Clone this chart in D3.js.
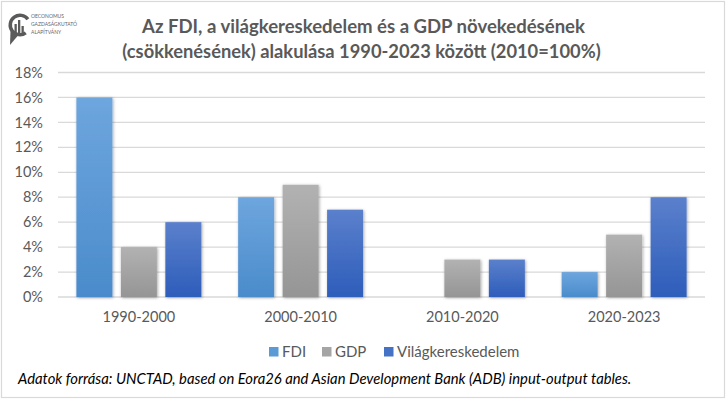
<!DOCTYPE html>
<html>
<head>
<meta charset="utf-8">
<script src="https://cdn.jsdelivr.net/npm/d3@7/dist/d3.min.js"></script>
<style>
html,body{margin:0;padding:0;background:#fff;}
svg{display:block;}
</style>
</head>
<body>
<svg id="chart" width="727" height="401"></svg>
<script>
const categories = ["1990-2000", "2000-2010", "2010-2020", "2020-2023"];
const seriesNames = ["FDI", "GDP", "Világkereskedelem"];
const fdi = [16, 8, 0, 2];
const gdp = [4, 9, 3, 5];
const vilag = [6, 7, 3, 8];
const yTicks = [0, 2, 4, 6, 8, 10, 12, 14, 16, 18];
const titleLines = ["Az FDI, a világkereskedelem és a GDP növekedésének", "(csökkenésének) alakulása 1990-2023 között (2010=100%)"];
const sourceText = "Adatok forrása: UNCTAD, based on Eora26 and Asian Development Bank (ADB) input-output tables.";
const logoLines = ["OECONOMUS", "GAZDASÁGKUTATÓ", "ALAPÍTVÁNY"];

const seriesValues = [fdi, gdp, vilag];
const colors = [
  {top: "#6ea6de", bot: "#4a8bcb", sw: "#5b9bd5"},
  {top: "#b2b2b2", bot: "#959595", sw: "#a5a5a5"},
  {top: "#5b80cc", bot: "#2d5dba", sw: "#4472c4"}
];
const font = "Lato, 'Open Sans', sans-serif";

const svg = d3.select("#chart");
const defs = svg.append("defs");
colors.forEach((c, i) => {
  const g = defs.append("linearGradient").attr("id", "grad" + i).attr("x1", 0).attr("x2", 0).attr("y1", 0).attr("y2", 1);
  g.append("stop").attr("offset", "0%").attr("stop-color", c.top);
  g.append("stop").attr("offset", "100%").attr("stop-color", c.bot);
});
const f = defs.append("filter").attr("id", "shadow").attr("x", "-20%").attr("y", "-10%").attr("width", "140%").attr("height", "120%");
f.append("feDropShadow").attr("dx", 0.8).attr("dy", 0.8).attr("stdDeviation", 1.4).attr("flood-color", "#000").attr("flood-opacity", 0.35);

// frame
svg.append("rect").attr("x", 1.5).attr("y", 1.5).attr("width", 723).attr("height", 396)
  .attr("fill", "#fff").attr("stroke", "#d9d9d9").attr("stroke-width", 1.2);

const x = d3.scaleBand().domain(categories).range([58, 705]).padding(0);
const y = d3.scaleLinear().domain([0, 18]).range([297, 72.5]);

// gridlines
svg.append("g").selectAll("line").data(yTicks).join("line")
  .attr("x1", 58).attr("x2", 705)
  .attr("y1", d => y(d)).attr("y2", d => y(d))
  .attr("stroke", "#d9d9d9").attr("stroke-width", 1.3);

// y axis labels
const yAxis = d3.axisLeft(y).tickValues(yTicks).tickFormat(d => d + "%").tickSize(0).tickPadding(0);
const yg = svg.append("g").attr("transform", "translate(43,0)").call(yAxis);
yg.select(".domain").remove();
yg.selectAll("text").attr("fill", "#595959").style("font-family", font).style("font-size", "14.5px");

// bars
const bw = x.bandwidth();
const barW = bw * 0.2226;
const step = bw * 0.275;
const groupW = step * 2 + barW;
const bars = svg.append("g").attr("filter", "url(#shadow)");
seriesValues.forEach((vals, si) => {
  bars.append("g").selectAll("rect").data(vals.map((v, i) => ({v, c: categories[i]}))).join("rect")
    .filter(d => d.v > 0)
    .attr("x", d => x(d.c) + bw / 2 - groupW / 2 + si * step)
    .attr("width", barW)
    .attr("y", d => y(d.v))
    .attr("height", d => y(0) - y(d.v))
    .attr("fill", "url(#grad" + si + ")");
});

// x axis labels
const xAxis = d3.axisBottom(x).tickSize(0).tickPadding(0);
const xg = svg.append("g").attr("transform", "translate(0,312)").call(xAxis);
xg.select(".domain").remove();
xg.selectAll("text").attr("fill", "#595959").style("font-family", font).style("font-size", "14.5px");

// title
const titleTargets = [[142, 585], [122, 601]];
const titleY = [33, 58];
titleLines.forEach((t, i) => {
  const el = svg.append("text").attr("x", (titleTargets[i][0] + titleTargets[i][1]) / 2).attr("y", titleY[i])
    .attr("text-anchor", "middle").attr("fill", "#595959")
    .style("font-family", font).style("font-weight", "bold").style("font-size", "18px").text(t);
  const w = el.node().getComputedTextLength();
  const target = titleTargets[i][1] - titleTargets[i][0];
  el.style("font-size", (18 * target / w) + "px");
});

// legend
const legendX = [269, 322, 384];
const lg = svg.append("g");
seriesNames.forEach((n, i) => {
  lg.append("rect").attr("x", legendX[i]).attr("y", 347).attr("width", 9.5).attr("height", 9.5).attr("fill", colors[i].sw);
  lg.append("text").attr("x", legendX[i] + 13).attr("y", 357).attr("fill", "#595959")
    .style("font-family", font).style("font-size", "15px").text(n);
});

// source
const src = svg.append("text").attr("x", 18).attr("y", 384).attr("fill", "#000")
  .style("font-family", font).style("font-style", "italic").style("font-size", "13px").text(sourceText);
{
  const w = src.node().getComputedTextLength();
  src.style("font-size", (13 * (632 - 18) / w) + "px");
}

// logo
const logo = svg.append("g").attr("fill", "#5a5a5a");
const arc = d3.arc().innerRadius(8).outerRadius(11.5).startAngle(Math.PI * 0.8).endAngle(Math.PI * 2.3);
logo.append("path").attr("d", arc()).attr("transform", "translate(20,25)");
logo.append("path").attr("d", "M10.5,31 L10,45 L18,35.5 Z");
[[14.5, 24, 2.3, 11], [18, 20, 2.3, 15], [21.5, 26, 2.3, 9]].forEach(b => {
  logo.append("rect").attr("x", b[0]).attr("y", b[1]).attr("width", b[2]).attr("height", b[3]);
});
logoLines.forEach((t, i) => {
  logo.append("text").attr("x", 31).attr("y", 18 + i * 8).attr("fill", "#666")
    .style("font-family", font).style("font-size", "5px").text(t);
});
</script>
</body>
</html>
